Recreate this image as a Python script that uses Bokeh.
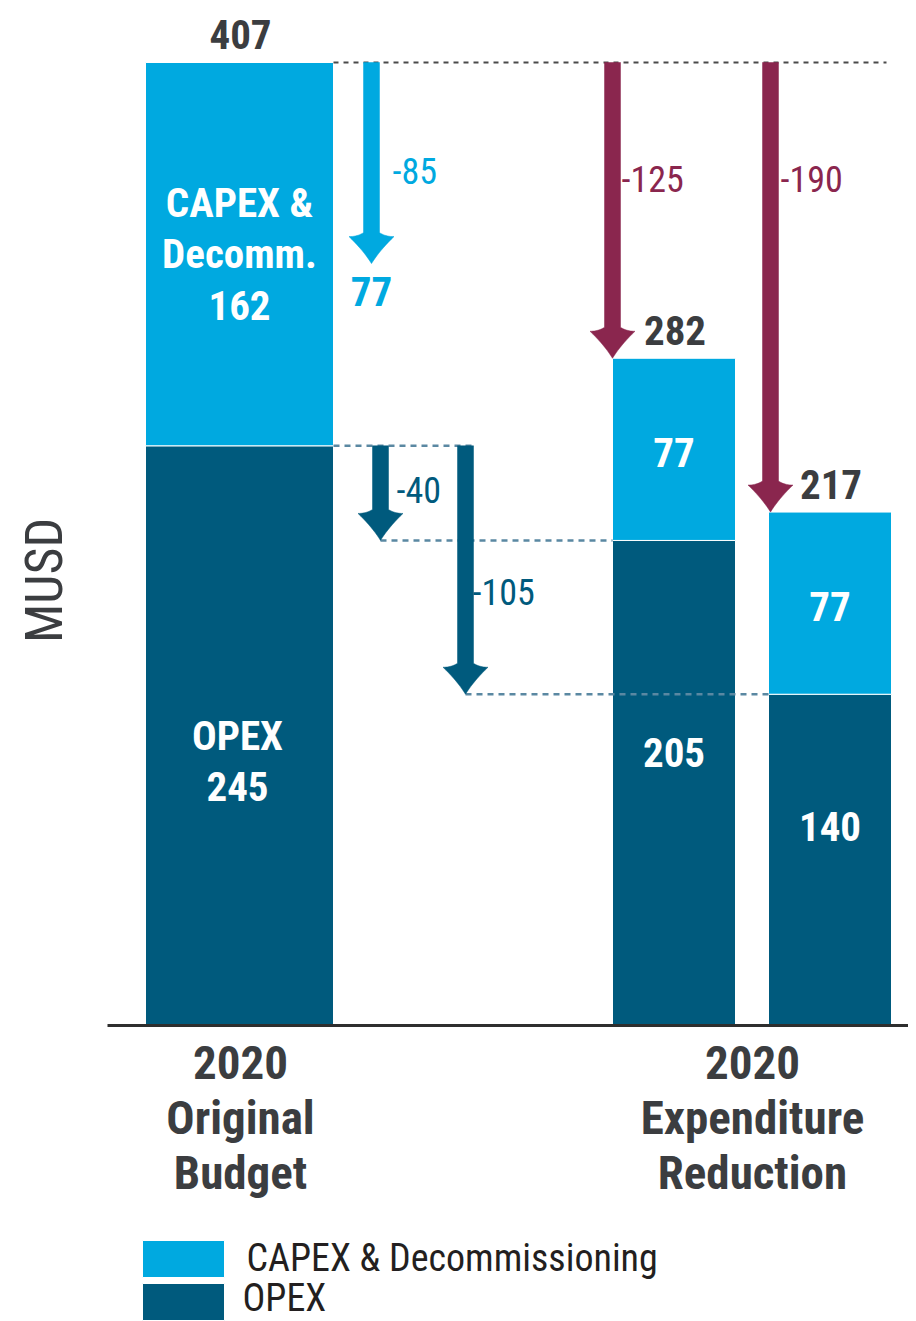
import subprocess
from math import pi
from bokeh.plotting import figure
from bokeh.models import Range1d
from bokeh.core.properties import value
from bokeh.embed import file_html
from bokeh.resources import INLINE

# ---------------- data ----------------
bar_names = ["2020 Original Budget", "2020 Expenditure Reduction (a)", "2020 Expenditure Reduction (b)"]
capex = [162, 77, 77]
opex = [245, 205, 140]
capex_cut = [-85]            # CAPEX & Decomm. reduction
opex_cuts = [-40, -105]      # OPEX reductions
total_cuts = [-125, -190]    # total reductions
cat_label_lines = [["2020", "Original", "Budget"], ["2020", "Expenditure", "Reduction"]]
legend_labels = ["CAPEX & Decommissioning", "OPEX"]
y_title = "MUSD"

totals = [c + o for c, o in zip(capex, opex)]

# ---------------- style / layout ----------------
LIGHT = "#00A9E0"
DARK = "#005A7D"
MAROON = "#8A264E"
TXT = "#3B3D40"
DASH_TEAL = "#5A88A2"
DASH_GREY = "#4A4A4A"


def pick_font():
    try:
        out = subprocess.run(["fc-list", ":", "family"], capture_output=True, text=True).stdout
    except Exception:
        out = ""
    for f in ["Liberation Sans Narrow", "Roboto Condensed", "DejaVu Sans Condensed"]:
        if f in out:
            return f
    return "DejaVu Sans Condensed"


FONT = pick_font()
SIZES = {
    "Liberation Sans Narrow": dict(bold=40, cat=46, legend=38, delta=34, title=50),
    "Roboto Condensed": dict(bold=41, cat=47, legend=38, delta=36, title=52),
    "DejaVu Sans Condensed": dict(bold=34, cat=39, legend=34, delta=31, title=48),
}[FONT]

OFF = 0                # page offset of the figure
S = 963 / 407.0        # px per MUSD
BASE = 1025            # baseline pixel row (page coords)


def vy(img_y):
    return (BASE - img_y) / S


def img(v):
    return BASE - v * S


bar_x = [239, 673.5, 829.5]
bar_w = [188, 123, 123]

W, H = 908, 1321
p = figure(width=W, height=H, x_range=Range1d(OFF, OFF + W), y_range=Range1d(vy(OFF + H), vy(OFF)),
           x_axis_type=None, y_axis_type=None, toolbar_location=None, output_backend="svg",
           min_border=0, outline_line_color=None)
p.grid.visible = False
p.background_fill_color = "white"
p.border_fill_color = "white"

# bars
p.vbar(x=bar_x, width=bar_w, bottom=0, top=opex, fill_color=DARK, line_color="white", line_width=1)
p.vbar(x=bar_x, width=bar_w, bottom=opex, top=totals, fill_color=LIGHT, line_color="white", line_width=1)

# baseline
p.segment(x0=[107], y0=[0], x1=[916], y1=[0], line_color="#2E2E2E", line_width=3)

# dashed guide lines
p.segment(x0=[bar_x[0] + bar_w[0] / 2], y0=[totals[0]], x1=[886], y1=[totals[0]],
          line_color=DASH_GREY, line_width=2, line_dash="5 5")
arrow_x = [371, 380, 465, 612, 770]
p.segment(x0=[bar_x[0] + bar_w[0] / 2, arrow_x[1], arrow_x[2]],
          y0=[opex[0], opex[0] + opex_cuts[0], opex[0] + opex_cuts[1]],
          x1=[472, bar_x[1] - bar_w[1] / 2, bar_x[2] - bar_w[2] / 2],
          y1=[opex[0], opex[0] + opex_cuts[0], opex[0] + opex_cuts[1]],
          line_color=DASH_TEAL, line_width=2.5, line_dash="6 5")


def qb(p0, c, p1, n=10):
    pts = []
    for i in range(n + 1):
        t = i / n
        pts.append(((1 - t) ** 2 * p0[0] + 2 * (1 - t) * t * c[0] + t * t * p1[0],
                    (1 - t) ** 2 * p0[1] + 2 * (1 - t) * t * c[1] + t * t * p1[1]))
    return pts


def arrow_poly(cx, v0, v1):
    y0, y1 = img(v0), img(v1)
    hw, sw, hl, nj = 22.5, 8, 27, 31
    pts = [(cx - sw, y0), (cx - sw, y1 - nj)]
    pts += qb((cx - sw, y1 - nj), (cx - 14, y1 - 27), (cx - hw, y1 - hl))[1:]
    pts += qb((cx - hw, y1 - hl), (cx - 8, y1 - 13), (cx, y1))[1:]
    pts += qb((cx, y1), (cx + 8, y1 - 13), (cx + hw, y1 - hl))[1:]
    pts += qb((cx + hw, y1 - hl), (cx + 14, y1 - 27), (cx + sw, y1 - nj))[1:]
    pts += [(cx + sw, y0)]
    return [q[0] for q in pts], [vy(q[1]) for q in pts]


arrows = [
    (arrow_x[0], totals[0], totals[0] + capex_cut[0], LIGHT),
    (arrow_x[1], opex[0], opex[0] + opex_cuts[0], DARK),
    (arrow_x[2], opex[0], opex[0] + opex_cuts[1], DARK),
    (arrow_x[3], totals[0], totals[0] + total_cuts[0], MAROON),
    (arrow_x[4], totals[0], totals[0] + total_cuts[1], MAROON),
]
axs, ays, acol = [], [], []
for cx, v0, v1, col in arrows:
    xs, ys = arrow_poly(cx, v0, v1)
    axs.append(xs)
    ays.append(ys)
    acol.append(col)
p.patches(xs=axs, ys=ays, fill_color=acol, line_color=acol, line_width=0.5)


def txt(x, y, s, size, color, bold=False, align="center", angle=0):
    p.text(x=[x], y=[y], text=[s], text_font=value(FONT), text_font_size=f"{size}px",
           text_font_style="bold" if bold else "normal", text_color=color,
           text_align=align, text_baseline="middle", angle=angle)


B = SIZES["bold"]
# totals above bars
for x, t in zip(bar_x, totals):
    txt(x + 1, t + 28 / S, str(t), B, TXT, bold=True)

# capex labels inside bars
cap_mid_img = [(img(o) + img(t)) / 2 for o, t in zip(opex, totals)]
txt(bar_x[0], vy(cap_mid_img[0] - 51), "CAPEX &", B, "white", bold=True)
txt(bar_x[0], vy(cap_mid_img[0]), "Decomm.", B, "white", bold=True)
txt(bar_x[0], vy(cap_mid_img[0] + 51), str(capex[0]), B, "white", bold=True)
for i in (1, 2):
    txt(bar_x[i], vy(cap_mid_img[i] + 3), str(capex[i]), B, "white", bold=True)

# opex labels
opex_label_img = [760, 752, 826]
txt(bar_x[0] - 2, vy(opex_label_img[0] - 25), "OPEX", B, "white", bold=True)
txt(bar_x[0] - 2, vy(opex_label_img[0] + 26), str(opex[0]), B, "white", bold=True)
for i in (1, 2):
    txt(bar_x[i], vy(opex_label_img[i]), str(opex[i]), B, "white", bold=True)

# arrow end value (CAPEX after cut)
txt(arrow_x[0], vy(291), str(capex[0] + capex_cut[0]), B, LIGHT, bold=True)

# delta labels
D = SIZES["delta"]
txt(392, vy(170), str(capex_cut[0]), D, LIGHT, align="left")
txt(396, vy(489), str(opex_cuts[0]), D, DARK, align="left")
txt(472, vy(591), str(opex_cuts[1]), D, DARK, align="left")
txt(621, vy(178), str(total_cuts[0]), D, MAROON, align="left")
txt(780, vy(178), str(total_cuts[1]), D, MAROON, align="left")

# y title
txt(44, vy(580), y_title, SIZES["title"], TXT, angle=pi / 2)

# category labels
cat_x = [240, 752]
for cx, lines in zip(cat_x, cat_label_lines):
    for k, s in enumerate(lines):
        txt(cx, vy(1062 + 55 * k), s, SIZES["cat"], TXT, bold=True)

# legend
p.quad(left=[142, 142], right=[224, 224], top=[vy(1240), vy(1283)], bottom=[vy(1277), vy(1320)],
       fill_color=[LIGHT, DARK], line_color="white", line_width=1)
txt(246, vy(1257), legend_labels[0], SIZES["legend"], "#231F20", align="left")
txt(242, vy(1297), legend_labels[1], SIZES["legend"], "#231F20", align="left")

open("out.html", "w").write(file_html(p, INLINE))
